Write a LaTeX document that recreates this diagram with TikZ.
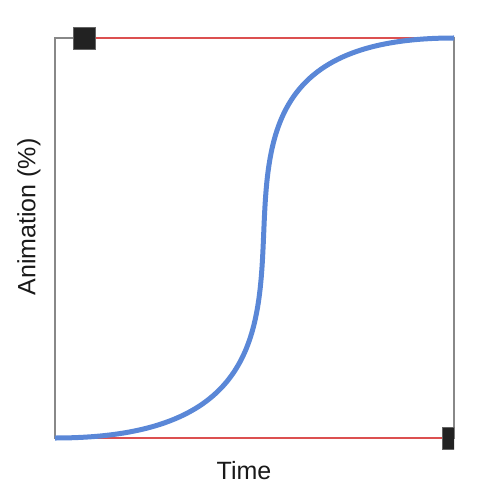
\documentclass[tikz,border=0pt]{standalone}
\usepackage{fontspec}
\setmainfont{Liberation Sans}
\definecolor{frame}{RGB}{136,136,136}
\definecolor{handleline}{RGB}{220,80,80}
\definecolor{curveblue}{RGB}{90,135,215}
\definecolor{handlefill}{RGB}{34,34,34}
\begin{document}
\begin{tikzpicture}[x=1pt,y=-1pt,
  handlebox/.style={fill=handlefill,draw=handlefill!70!white,line width=0.6pt},
  lbl/.style={font=\fontsize{25}{29}\selectfont,text=black!90}]
\useasboundingbox (0,0) rectangle (482,494);
\draw[frame,line width=1.6pt] (55,38) rectangle (454,438);
\coordinate (p0) at (55,438);
\coordinate (c1) at (449,438);
\coordinate (c2) at (84,38);
\coordinate (p3) at (454,38);
\draw[handleline,line width=2pt] (p0) -- (c1);
\draw[handleline,line width=2pt] (p3) -- (c2);
\draw[curveblue,line width=5pt] (p0) .. controls (c1) and (c2) .. (p3);
\node[handlebox,minimum size=22pt,inner sep=0pt] (h1) at (c2) {};
\begin{scope}
\clip (430,420) rectangle (454,460);
\node[handlebox,minimum size=22pt,inner sep=0pt] (h2) at (453,438) {};
\end{scope}
\node[lbl] (xl) at (244,471) {Time};
\node[lbl,rotate=90] (yl) at (29,217) {Animation (\%)};
\end{tikzpicture}
\end{document}
